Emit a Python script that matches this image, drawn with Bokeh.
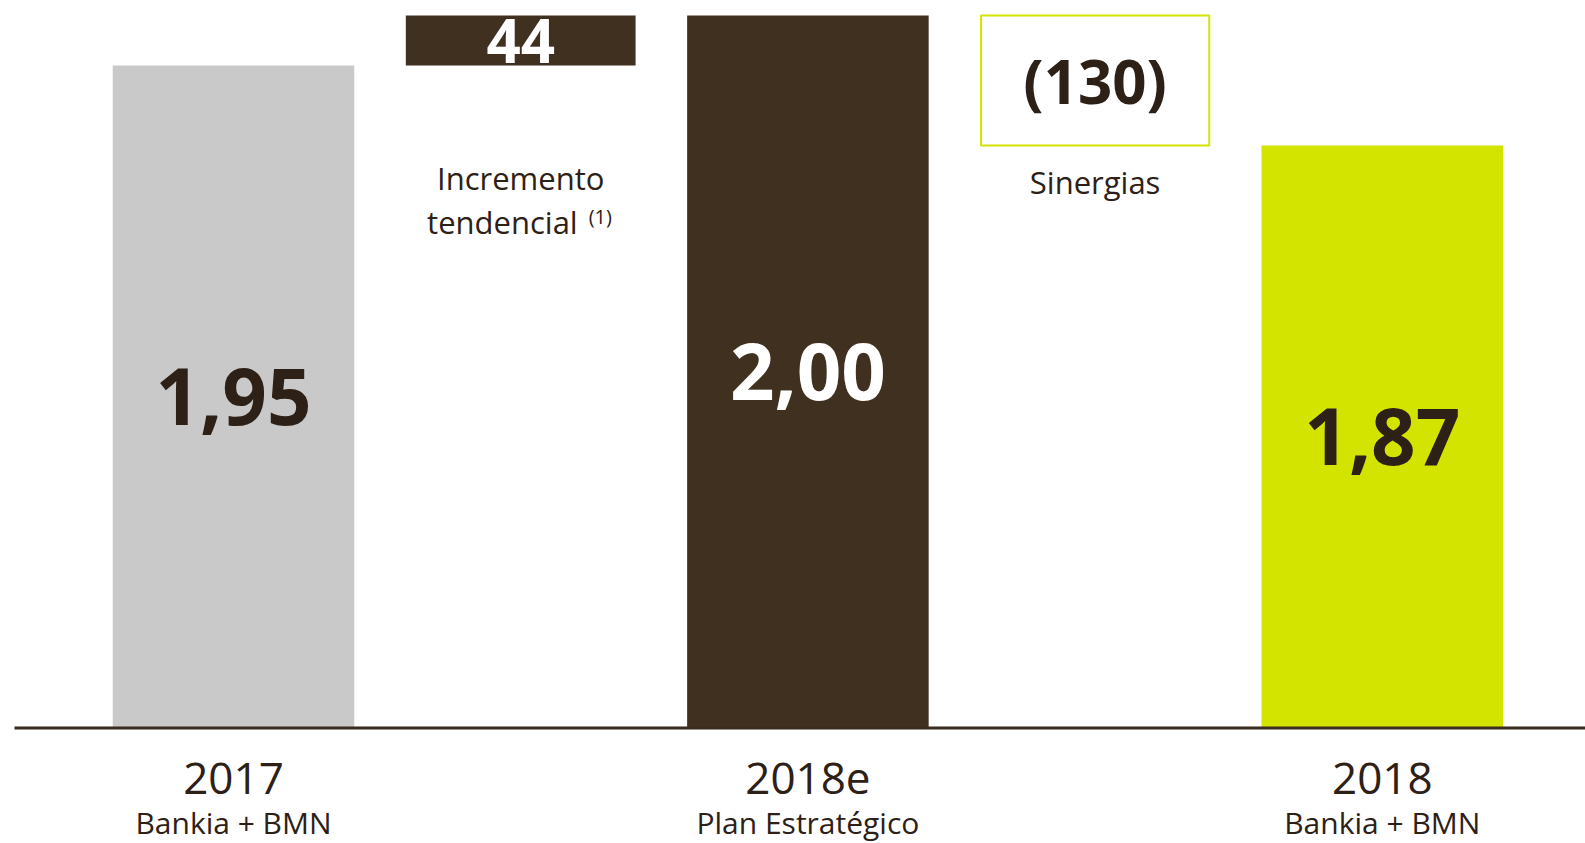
from bokeh.plotting import figure
from bokeh.models import Range1d
from bokeh.embed import file_html
from bokeh.resources import INLINE
from bokeh.core.properties import value

# ---------------- data ----------------
TOTAL_CATS = ["2017", "2018e", "2018"]
TOTAL_SUBS = ["Bankia + BMN", "Plan Estratégico", "Bankia + BMN"]
TOTALS = [1.95, 2.00, 1.87]            # miles de millones de euros
TOTAL_LABELS = ["1,95", "2,00", "1,87"]
STEP_NAMES = [["Incremento", "tendencial"], ["Sinergias"]]
STEP_NOTES = ["(1)", ""]
STEP_VALUES = [44, -130]               # millones de euros
STEP_LABELS = ["44", "(130)"]

# ---------------- layout / style ----------------
W, H = 1585, 843
X_PX = 287.2                       # px per category slot
X_START = -233.0 / X_PX
Y_PX = 1000.0                      # px per unit (truncated axis)
Y_END = 2.015
Y_START = Y_END - H / Y_PX
Y_BASE = Y_END - 727.5 / Y_PX      # axis baseline


def ydata(px):
    return Y_END - px / Y_PX


def xdata(px):
    return X_START + px / X_PX


FONT = value("Open Sans")
DARK = "#403020"
TXT = "#2d2016"
GREY = "#c9c9c9"
LIME = "#d2e400"

x_total = [2 * i for i in range(len(TOTALS))]
x_step = [2 * i + 1 for i in range(len(STEP_VALUES))]

p = figure(width=W, height=H, x_range=Range1d(X_START, xdata(W)),
           y_range=Range1d(Y_START, Y_END), output_backend="svg",
           toolbar_location=None, x_axis_location=None, y_axis_location=None,
           min_border=0)
p.grid.visible = False
p.outline_line_color = None
p.background_fill_color = "white"

# total bars
p.vbar(x=x_total, top=TOTALS, bottom=Y_BASE, width=0.841,
       fill_color=[GREY, DARK, LIME], line_color=None)

# waterfall step boxes (span between consecutive totals)
step_bottom = [min(TOTALS[i], TOTALS[i + 1]) for i in range(len(STEP_VALUES))]
step_top = [max(TOTALS[i], TOTALS[i + 1]) for i in range(len(STEP_VALUES))]
p.vbar(x=x_step[0], top=step_top[0], bottom=step_bottom[0], width=0.80,
       fill_color=DARK, line_color=None)
p.vbar(x=x_step[1], top=step_top[1], bottom=step_bottom[1], width=0.795,
       fill_color="white", line_color=LIME, line_width=2)

# baseline
p.segment(x0=xdata(14), x1=xdata(W), y0=Y_BASE, y1=Y_BASE,
          line_color="#3a2c1f", line_width=3)

# value labels on bars (centered in the bar)
p.text(x=x_total, y=[(Y_BASE + t) / 2 for t in TOTALS], text=TOTAL_LABELS,
       text_font=FONT, text_font_style="bold", text_font_size="78px",
       text_color=[TXT, "white", TXT], text_align="center",
       text_baseline="middle")

# step value labels
p.text(x=x_step, y=[(b + t) / 2 for b, t in zip(step_bottom, step_top)],
       text=STEP_LABELS, text_font=FONT, text_font_style="bold",
       text_font_size="60px", text_color=["white", TXT], text_align="center",
       text_baseline="middle")

# step descriptions
p.text(x=[x_step[0]], y=[ydata(177.5)], text=[STEP_NAMES[0][0]],
       text_font=FONT, text_font_size="31px", text_color=TXT,
       text_align="center", text_baseline="middle")
p.text(x=[x_step[0]], y=[ydata(221.5)], text=[STEP_NAMES[0][1]],
       text_font=FONT, text_font_size="31px", text_color=TXT,
       text_align="right", text_baseline="middle",
       x_offset=[57])
p.text(x=[x_step[0]], y=[ydata(215.5)], text=[STEP_NOTES[0]],
       text_font=FONT, text_font_size="20px", text_color=TXT,
       text_align="left", text_baseline="middle", x_offset=[68])
p.text(x=[x_step[1]], y=[ydata(181.5)], text=[STEP_NAMES[1][0]],
       text_font=FONT, text_font_size="31px", text_color=TXT,
       text_align="center", text_baseline="middle")

# category labels under the axis
p.text(x=x_total, y=ydata(777.5), text=TOTAL_CATS, text_font=FONT,
       text_font_size="44px", text_color=TXT, text_align="center",
       text_baseline="middle")
p.text(x=x_total, y=ydata(822), text=TOTAL_SUBS, text_font=FONT,
       text_font_size="30px", text_color=TXT, text_align="center",
       text_baseline="middle")

open("out.html", "w").write(file_html(p, INLINE))
